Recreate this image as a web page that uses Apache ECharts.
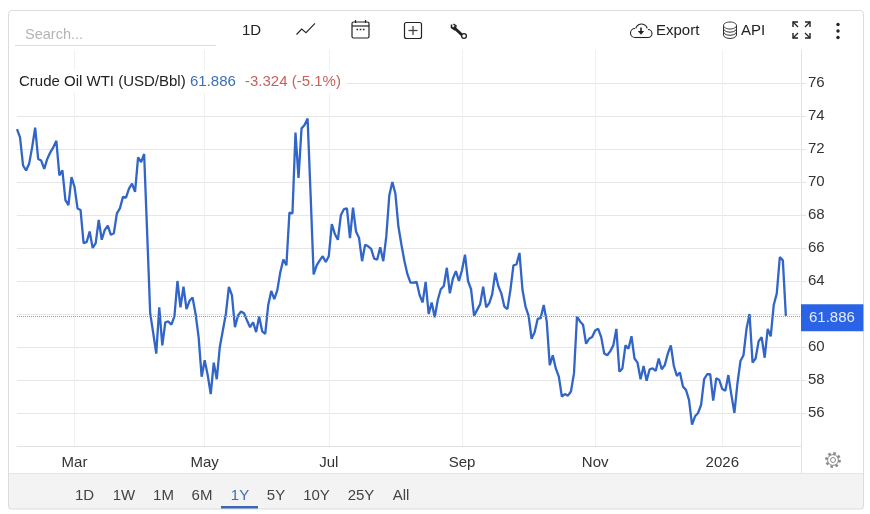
<!DOCTYPE html>
<html><head><meta charset="utf-8">
<style>html,body{margin:0;padding:0;background:#fff}#c{width:870px;height:514px}</style>
<script src="https://cdn.jsdelivr.net/npm/echarts@6/dist/echarts.min.js"></script>
</head><body><div id="c"></div>
<script>
const prices = [
73.2,72.7,71.0,70.7,71.1,72.1,73.3,71.4,71.3,70.8,71.4,71.8,72.1,72.5,70.4,70.7,68.9,68.6,70.3,69.7,
68.4,68.3,66.3,66.35,67.0,66.0,66.3,67.7,66.5,67.1,67.35,66.8,66.9,68.1,68.4,69.1,69.05,69.6,69.9,69.4,
71.5,71.2,71.7,66.9,62.05,60.85,59.6,62.4,60.1,61.5,61.55,61.35,61.85,64.0,62.4,63.65,62.3,62.8,63.0,62.0,
60.6,58.2,59.2,58.3,57.15,59.05,58.05,60.0,61.0,62.0,63.65,63.15,61.2,61.9,62.15,62.05,61.6,61.2,61.5,60.9,
61.85,60.95,60.8,62.55,63.4,62.9,63.45,64.55,65.3,64.95,68.15,68.1,73.0,70.25,73.25,73.45,73.85,69.2,64.4,64.95,
65.25,65.5,65.15,65.5,67.45,66.85,66.5,68.0,68.35,68.4,66.6,68.45,67.0,66.6,65.2,66.2,66.1,65.95,65.35,65.3,
66.05,65.2,66.7,69.2,70.0,69.3,67.3,66.2,65.2,64.4,63.9,63.9,63.95,63.15,62.7,63.95,62.0,62.7,61.8,62.85,
63.5,63.7,64.8,63.25,64.15,64.6,64.0,64.65,65.6,64.0,63.5,61.9,62.25,62.6,63.65,62.4,62.65,63.2,64.5,63.7,
63.25,62.45,62.3,63.45,64.95,65.0,65.7,63.45,62.45,61.9,60.5,60.9,61.7,61.75,62.55,61.55,58.9,59.5,58.7,58.2,
57.0,57.15,57.05,57.3,58.4,61.85,61.55,61.35,60.2,60.5,60.6,61.0,61.1,60.6,59.6,59.5,59.75,60.1,61.1,58.5,
58.7,60.1,59.9,60.65,59.3,59.05,58.05,58.85,57.95,58.65,58.7,58.55,59.3,58.65,58.9,59.6,60.1,58.85,58.25,58.45,
57.6,57.4,56.8,55.3,55.8,56.0,56.5,58.05,58.35,58.35,56.75,58.1,58.0,57.45,57.35,58.3,57.1,56.0,57.8,59.15,
59.5,61.1,62.0,59.05,59.3,60.35,60.6,59.35,61.1,60.65,62.55,63.25,65.45,65.25,61.886];
const trailingSessions = 5;
const monthNames = ['Mar','May','Jul','Sep','Nov','2026'];
const monthStarts = [19,62,103,147,191,233];
const lastPrice = 61.886, change = '-3.324 (-5.1%)';
const seriesName = 'Crude Oil WTI (USD/Bbl)';
const rangeLabels = ['1D','1W','1M','6M','1Y','5Y','10Y','25Y','All'];
const categories = prices.map((_, i) => String(i)).concat(Array.from({length: trailingSessions}, (_, i) => 'f' + i));
const isMonth = i => monthStarts.includes(i);

const font = '"Liberation Sans", Arial, sans-serif';
const ink = '#222', soft = '#333';
const T = (x, y, text, o = {}) => ({type: 'text', x, y, z: 20, silent: true,
  style: {text, font: (o.size || 15) + 'px ' + font, fill: o.fill || ink, textAlign: o.align || 'left', textVerticalAlign: 'middle'}});
const L = (pts, o = {}) => ({type: 'polyline', z: 20, silent: true, shape: {points: pts},
  style: {stroke: o.stroke || ink, lineWidth: o.w || 1, fill: null, lineCap: o.cap || 'butt', lineDash: o.dash || null}});
const R = (x, y, w, h, o = {}) => ({type: 'rect', z: o.z || 20, silent: true, shape: {x, y, width: w, height: h, r: o.r || 0},
  style: {fill: o.fill || null, stroke: o.stroke || null, lineWidth: o.w || 1}});
const C = (cx, cy, r, o = {}) => ({type: 'circle', z: 20, silent: true, shape: {cx, cy, r},
  style: {fill: o.fill || null, stroke: o.stroke || null, lineWidth: o.w || 1, lineDash: o.dash || null}});
const A = (cx, cy, r, a0, a1, o = {}) => ({type: 'arc', z: 20, silent: true,
  shape: {cx, cy, r, startAngle: a0 * Math.PI / 180, endAngle: a1 * Math.PI / 180, clockwise: true},
  style: {stroke: o.stroke || ink, lineWidth: o.w || 1.1, fill: null}});
const halfEll = (cx, cy, rx, ry) => [0,30,60,90,120,150,180].map(d => [cx + rx * Math.cos(d*Math.PI/180), cy + ry * Math.sin(d*Math.PI/180)]);
const rangeX = [84.5,124,163.5,202,240,276,316.5,361,401];
const graphics = [
  // frame + bottom strip
  R(8.5,473,855,36,{fill:'#f3f3f3',z:1}),
  R(8.5,10.5,855,498.5,{stroke:'#dcdcdc',r:3,z:1}),
  L([[8.5,473.5],[863,473.5]],{stroke:'#e4e4e4'}),
  L([[801.5,446],[801.5,473]],{stroke:'#e2e2e2'}),
  // search
  T(25,34.5,'Search...',{size:14.5,fill:'#b4b4b4'}),
  L([[15,45.5],[216,45.5]],{stroke:'#dedede'}),
  // toolbar
  T(251.5,31,'1D',{align:'center'}),
  L([[296.5,34.5],[301.7,29],[306,32.7],[315,23.3]],{w:1.1}),
  R(352,22,17,16,{stroke:ink,r:1.5,w:1.2}), L([[352,26],[369,26]],{w:1.2}),
  L([[355.5,20],[355.5,23]],{w:1.2}), L([[365.5,20],[365.5,23]],{w:1.2}),
  L([[356.5,29.5],[364.5,29.5]],{w:1.5,dash:[1.6,1.6]}),
  R(404.5,22.5,17,16,{stroke:ink,r:2,w:1.2}),
  L([[413,26],[413,35]],{w:1.3,stroke:'#444'}), L([[408.5,30.5],[417.5,30.5]],{w:1.3,stroke:'#444'}),
  L([[453.5,27],[462,35]],{w:3}), L([[451.5,24.5],[451.5,27.5],[454.5,29.5],[456,26],[453.5,24]],{w:1.6}),
  C(464,36,2.4,{stroke:ink,w:1.3,fill:'#fff'}),
  // cloud
  A(635,33,4.5,90,270), A(641.5,30,6,195,345), A(648,33.5,4,270,450), L([[635,37.5],[648,37.5]],{w:1.1}),
  L([[641,27.5],[641,32]],{w:1.6}), {type:'polygon',z:20,silent:true,shape:{points:[[637.8,31],[644.2,31],[641,34.8]]},style:{fill:ink}},
  T(656,31,'Export'),
  // database
  {type:'ellipse',z:20,silent:true,shape:{cx:730,cy:25.5,rx:6.5,ry:3.5},style:{fill:null,stroke:'#333',lineWidth:1}},
  L([[723.5,25.5],[723.5,35]],{stroke:'#333'}), L([[736.5,25.5],[736.5,35]],{stroke:'#333'}),
  L(halfEll(730,28.7,6.5,3.5),{stroke:'#333'}), L(halfEll(730,31.8,6.5,3.5),{stroke:'#333'}), L(halfEll(730,35,6.5,3.5),{stroke:'#333'}),
  T(741,31,'API'),
  // expand icon
  ...[[793,22,1,1],[810,22,-1,1],[793,38,1,-1],[810,38,-1,-1]].flatMap(([x,y,a,b]) => [
    L([[x+a*5,y],[x,y],[x,y+b*5]],{w:1.4}), L([[x,y],[x+a*5,y+b*5]],{w:1.2})]),
  C(838,24.5,1.7,{fill:'#222'}), C(838,31,1.7,{fill:'#222'}), C(838,37.5,1.7,{fill:'#222'}),
  // legend line
  R(17,70,329,23,{fill:'#fff',z:15}),
  T(19,82,seriesName,{size:15}),
  T(190,82,lastPrice.toFixed(3),{size:15,fill:'#3b6fb5'}),
  T(245,82,change,{size:15,fill:'#c9605c'}),
  // gear
  C(833,460,6.6,{stroke:'#8a8a8a',w:2.6,dash:[2.5,2.7]}), C(833,460,5.4,{stroke:'#8a8a8a',w:1}), C(833,460,2.5,{stroke:'#8a8a8a',w:1}),
  // ranges
  ...rangeLabels.map((t,i) => T(rangeX[i],495.5,t,{align:'center',size:15,fill:t==='1Y'?'#3b6db5':'#444'})),
  R(221,506,37,2.4,{fill:'#3d66b3'})
];

const chart = echarts.init(document.getElementById('c'), null, {renderer:'canvas'});
chart.setOption({
  animation:false,
  backgroundColor:'#fff',
  textStyle:{fontFamily:font},
  grid:{left:17,right:69,top:50,bottom:68,containLabel:false},
  xAxis:{type:'category',data:categories,boundaryGap:false,
    axisLine:{show:true,lineStyle:{color:'#e2e2e2'}},axisTick:{show:false},
    axisLabel:{interval:i=>isMonth(i),color:soft,fontSize:15,margin:9,fontFamily:font,
      formatter:(v,i)=>{const k=monthStarts.indexOf(i);return k>=0?monthNames[k]:'';}},
    splitLine:{show:true,interval:i=>isMonth(i),lineStyle:{color:'#f0f0f0',width:1}}},
  yAxis:{type:'value',position:'right',min:54,max:78,interval:2,
    axisLine:{show:true,lineStyle:{color:'#e2e2e2'}},
    axisTick:{show:true,length:5,lineStyle:{color:'#e4e4e4'}},
    axisLabel:{color:soft,fontSize:15,margin:7,fontFamily:font,showMinLabel:false,showMaxLabel:false,padding:[5,0,0,0]},
    splitLine:{show:true,showMaxLine:false,lineStyle:{color:'#e6e6e6',width:1}}},
  series:[{name:seriesName,type:'line',data:prices,showSymbol:false,smooth:false,
    lineStyle:{color:'#3165c8',width:2.3},itemStyle:{color:'#3165c8'},
    markLine:{silent:true,symbol:'none',animation:false,
      lineStyle:{color:'#7f9bd0',type:'dotted',width:1},
      label:{show:true,position:'end',distance:0,offset:[0,2],formatter:()=>lastPrice.toFixed(3),
        backgroundColor:'#2a63e6',color:'#e6edfa',fontSize:15,fontFamily:font,padding:[6,8.5,6,8]},
      data:[{yAxis:lastPrice}]}}],
  graphic:{elements:graphics}
});
</script></body></html>
